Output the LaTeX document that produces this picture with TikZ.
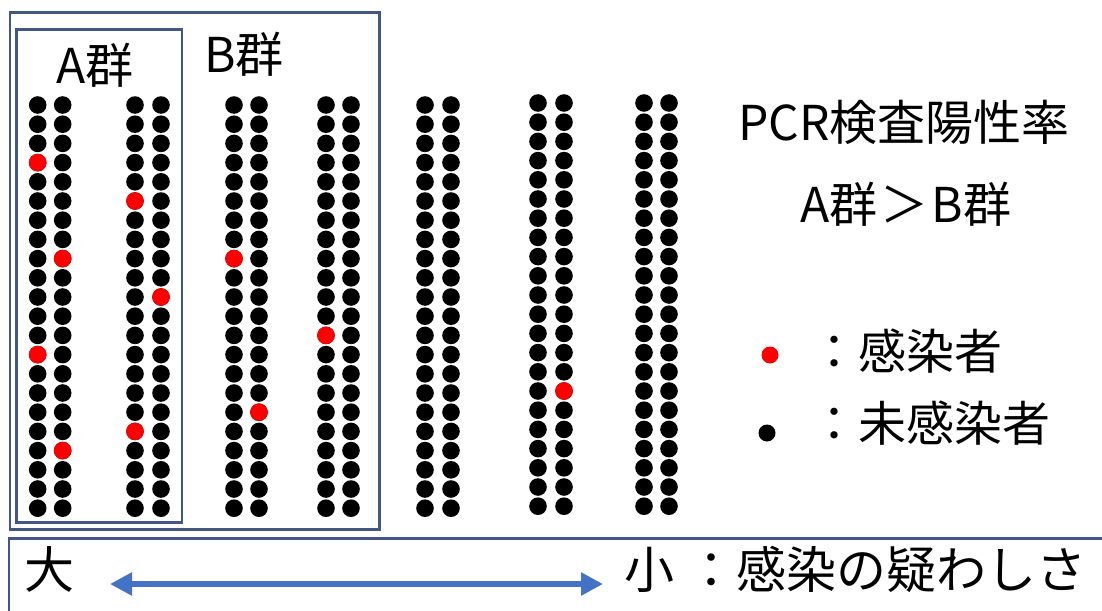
\documentclass[tikz,border=0pt]{standalone}
\usepackage{fontspec}
\setmainfont{Noto Sans CJK JP}
\usetikzlibrary{arrows.meta}
\definecolor{framec}{RGB}{66,88,130}
\definecolor{arrowc}{RGB}{68,114,196}
\definecolor{redc}{RGB}{255,0,0}
\tikzset{
  frame/.style={draw=framec,line width=2.2pt},
  lbl/.style={anchor=base,inner sep=0pt,font=\fontsize{48}{50}\selectfont},
  lbll/.style={anchor=base west,inner sep=0pt,font=\fontsize{48}{50}\selectfont},
  dotb/.style={fill=black},
  dotr/.style={fill=redc},
  biarrow/.style={draw=arrowc,line width=6.5pt,{Triangle[length=22pt,width=22pt]}-{Triangle[length=22pt,width=22pt]}}
}
\begin{document}
\begin{tikzpicture}[x=1pt,y=-1pt]
\useasboundingbox (0,0) rectangle (1102,610);
\fill[white] (0,0) rectangle (1102,610);
% frames
\draw[frame] (10,12.5) rectangle (379.5,529.5);
\draw[frame] (16.5,29.5) rectangle (182,522.5);
\draw[frame] (9,538.5) rectangle (1120,630);
% group labels
\node[lbl] (ga) at (95,83) {A群};
\node[lbl] (gb) at (244,72) {B群};
% dot columns
\foreach \cx/\cy in {37.7/105,62.7/105,135/105,161/105,234/105,259/105,326/105,351/105,425/105,451/105,538/103,564/103,644/103,669/103}{
  \foreach \r in {0,...,21}{
    \fill[dotb] (\cx,\cy+\r*19.2) circle (8.8);
  }
}
% infected
\foreach \cx/\cy/\r in {37.7/105/3,37.7/105/13,62.7/105/8,62.7/105/18,135/105/5,135/105/17,161/105/10,234/105/8,259/105/16,326/105/12,564/103/15}{
  \fill[dotr] (\cx,\cy+\r*19.2) circle (8.8);
}
% right text
\node[lbl] (t1) at (904,140) {PCR検査陽性率};
\node[lbl] (t2) at (906,222) {A群\hspace{3pt}＞\hspace{3pt}B群};
% legend
\fill[dotr] (770,355) circle (8.5);
\fill[dotb] (767,433) circle (8.5);
\node[lbll] (l1) at (810,369) {：感染者};
\node[lbll] (l2) at (810,441) {：未感染者};
% bottom
\node[lbll,font=\fontsize{50}{52}\selectfont] (big) at (24,588) {大};
\node[lbll,font=\fontsize{50}{52}\selectfont] (small) at (624,588) {小\hspace{12pt}：感染の疑わしさ};
\coordinate (al) at (110,584);
\coordinate (ar) at (603,584);
\draw[biarrow] (al) -- (ar);
\end{tikzpicture}
\end{document}
